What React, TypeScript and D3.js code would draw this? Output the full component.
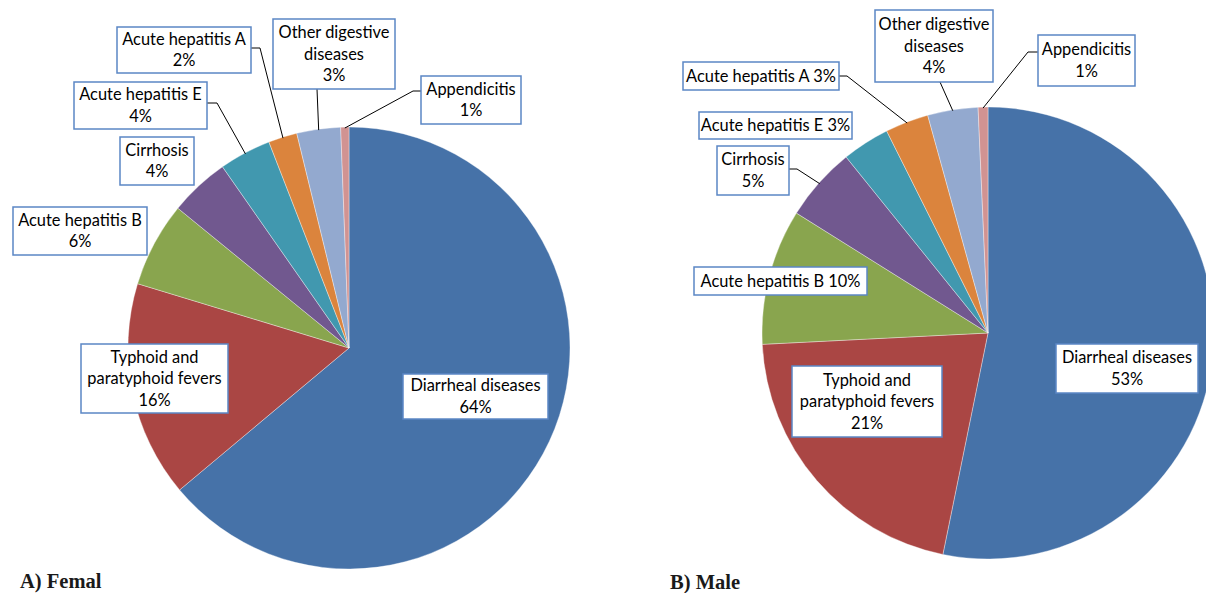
import React from "react";
import * as d3 from "d3";

const categories = [
  "Diarrheal diseases",
  "Typhoid and paratyphoid fevers",
  "Acute hepatitis B",
  "Cirrhosis",
  "Acute hepatitis E",
  "Acute hepatitis A",
  "Other digestive diseases",
  "Appendicitis",
];
const femaleValues = [63.9, 15.8, 6.2, 4.4, 3.8, 2.1, 3.2, 0.6];
const maleValues = [53.2, 21.0, 9.7, 5.3, 3.4, 3.1, 3.6, 0.7];
const colors = ["#4672A8", "#AA4644", "#89A54E", "#71588F", "#4198AF", "#DB843D", "#93A9CF", "#D19392"];
const titles = ["A) Femal", "B) Male"];

type LabelLayout = {
  lines: string[]; // text lines; "{p}" replaced by percent
  box: [number, number, number, number]; // x, y, w, h
  leader?: [number, number][]; // start points before reaching arc
};

const femaleLayout: LabelLayout[] = [
  { lines: ["Diarrheal diseases", "{p}"], box: [403, 374, 145, 45] },
  { lines: ["Typhoid and", "paratyphoid fevers", "{p}"], box: [81, 344, 147, 69] },
  { lines: ["Acute hepatitis B", "{p}"], box: [13, 207, 134, 48] },
  { lines: ["Cirrhosis", "{p}"], box: [120, 137, 74, 48] },
  { lines: ["Acute hepatitis E", "{p}"], box: [74, 82, 133, 47], leader: [[207, 103], [217, 103]] },
  { lines: ["Acute hepatitis A", "{p}"], box: [117, 27, 134, 46], leader: [[251, 48], [260, 48]] },
  { lines: ["Other digestive", "diseases", "{p}"], box: [273, 19, 122, 70], leader: [[317, 89]] },
  { lines: ["Appendicitis", "{p}"], box: [421, 76, 100, 48], leader: [[421, 91], [413, 91]] },
];

const maleLayout: LabelLayout[] = [
  { lines: ["Diarrheal diseases", "{p}"], box: [1056, 344, 142, 49] },
  { lines: ["Typhoid and", "paratyphoid fevers", "{p}"], box: [792, 366, 150, 71] },
  { lines: ["Acute hepatitis B {p}"], box: [694, 267, 173, 28] },
  { lines: ["Cirrhosis", "{p}"], box: [717, 146, 72, 49], leader: [[789, 169], [797, 169]] },
  { lines: ["Acute hepatitis E {p}"], box: [699, 112, 153, 27] },
  { lines: ["Acute hepatitis A {p}"], box: [683, 62, 156, 28], leader: [[839, 76], [847, 76]] },
  { lines: ["Other digestive", "diseases", "{p}"], box: [875, 10, 118, 72], leader: [[940, 82]] },
  { lines: ["Appendicitis", "{p}"], box: [1038, 35, 97, 51], leader: [[1038, 52], [1028, 52]] },
];

const charts = [
  { values: femaleValues, layout: femaleLayout, cx: 349, cy: 348, r: 221, title: titles[0], tx: 20, ty: 588 },
  { values: maleValues, layout: maleLayout, cx: 988, cy: 333, r: 226, title: titles[1], tx: 670, ty: 589 },
];

const FONT = "Lato, 'Open Sans', sans-serif";

function Pie({ values, layout, cx, cy, r, title, tx, ty }: any) {
  const data = categories.map((c, i) => ({ c, v: values[i], i }));
  const total = d3.sum(values);
  const pie = d3.pie<any>().value((d) => d.v).sort(null);
  const arcs = pie(data);
  const arcGen = d3.arc<any>().innerRadius(0).outerRadius(r);
  const lh = 21.5;
  return (
    <g>
      <g transform={`translate(${cx},${cy})`}>
        {arcs.map((a) => (
          <path key={a.data.c} d={arcGen(a) as string} fill={colors[a.data.i]} stroke="#ffffff" strokeWidth={0.6} strokeOpacity={0.6} />
        ))}
      </g>
      {arcs.map((a, k) => {
        const L: LabelLayout = layout[k];
        const pct = Math.round((a.data.v / total) * 100) + "%";
        const [bx, by, bw, bh] = L.box;
        const mid = (a.startAngle + a.endAngle) / 2;
        const ex = cx + Math.sin(mid) * (r - 1);
        const ey = cy - Math.cos(mid) * (r - 1);
        const pts = L.leader ? [...L.leader, [ex, ey]] : null;
        const n = L.lines.length;
        const y0 = by + bh / 2 - ((n - 1) * lh) / 2;
        return (
          <g key={"l" + k}>
            {pts && (
              <polyline points={pts.map((p) => p.join(",")).join(" ")} fill="none" stroke="#000" strokeWidth={1} />
            )}
            <rect x={bx} y={by} width={bw} height={bh} fill="#ffffff" stroke="#5B87C5" strokeWidth={1.5} />
            {L.lines.map((ln, j) => (
              <text
                key={j}
                x={bx + bw / 2}
                y={y0 + j * lh}
                dy="0.35em"
                textAnchor="middle"
                fontFamily={FONT}
                fontSize={16.4}
                fill="#000"
              >
                {ln.replace("{p}", pct)}
              </text>
            ))}
          </g>
        );
      })}
      <text x={tx} y={ty} fontFamily="'Liberation Serif', 'Times New Roman', serif" fontWeight="bold" fontSize={20.5} fill="#1a1a1a">
        {title}
      </text>
    </g>
  );
}

export default function App() {
  return (
    <svg width={1206} height={593} style={{ position: "absolute", left: 0, top: 0, background: "#fff" }}>
      <rect width={1206} height={593} fill="#fff" />
      {charts.map((c, i) => (
        <Pie key={i} {...c} />
      ))}
    </svg>
  );
}
